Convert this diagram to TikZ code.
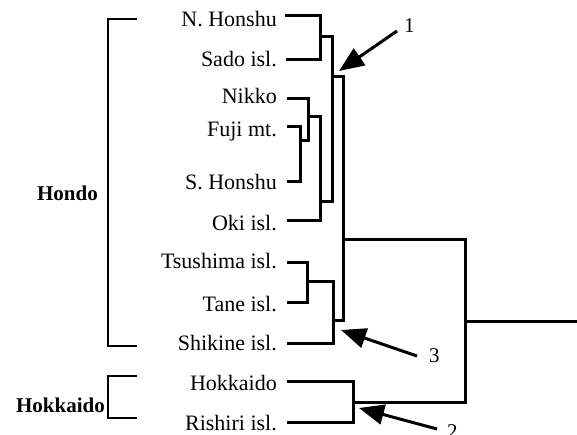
\documentclass[tikz,border=0pt]{standalone}
\usepackage{fontspec}
\setmainfont{Liberation Serif}
\usetikzlibrary{arrows.meta}
\begin{document}
\begin{tikzpicture}[x=1pt,y=-1pt,
  leaf/.style={anchor=base east,inner sep=0pt,font=\fontsize{22}{26}\selectfont},
  grp/.style={anchor=base east,inner sep=0pt,font=\fontsize{21}{25}\selectfont\bfseries},
  num/.style={anchor=base west,inner sep=0pt,font=\fontsize{21}{25}\selectfont},
  tree/.style={line width=3pt,line join=miter,line cap=rect},
  brk/.style={line width=1.3pt,line join=miter},
  arr/.style={line width=3pt,-{Triangle[length=25pt,width=20pt]}}]
\useasboundingbox (0,0) rectangle (577,435);
% leaf labels
\node[leaf] (tNH) at (277,27) {N. Honshu};
\node[leaf] (tSD) at (277,67) {Sado isl.};
\node[leaf] (tNK) at (277,104) {Nikko};
\node[leaf] (tFJ) at (277,137) {Fuji mt.};
\node[leaf] (tSH) at (277,190) {S. Honshu};
\node[leaf] (tOK) at (277,231) {Oki isl.};
\node[leaf] (tTS) at (277,268) {Tsushima isl.};
\node[leaf] (tTN) at (277,311) {Tane isl.};
\node[leaf] (tSK) at (277,350) {Shikine isl.};
\node[leaf] (tHK) at (277,390) {Hokkaido};
\node[leaf] (tRS) at (277,430) {Rishiri isl.};
% group labels
\node[grp] (gHondo) at (98,201) {Hondo};
\node[grp] (gHokk) at (105,412) {Hokkaido};
% leaf line starts
\coordinate (sNH) at (286,16);
\coordinate (sSD) at (287,60);
\coordinate (sNK) at (288,99);
\coordinate (sFJ) at (288,127);
\coordinate (sSH) at (288,182);
\coordinate (sOK) at (288,221);
\coordinate (sTS) at (288,262);
\coordinate (sTN) at (288,302);
\coordinate (sSK) at (288,343);
\coordinate (sHK) at (288,381);
\coordinate (sRS) at (288,422);
% internal nodes (vertical x, outgoing y)
\coordinate (j1) at (320,37);
\coordinate (jFS) at (300,141);
\coordinate (jN) at (308,117);
\coordinate (jO) at (320,202);
\coordinate (j3) at (332,77);
\coordinate (jTT) at (307,281);
\coordinate (jS) at (333,320);
\coordinate (jH) at (343,240);
\coordinate (jK) at (353,402);
\coordinate (root) at (465,321);
\coordinate (rootEnd) at (580,321);
% tree
\draw[tree] (sNH) -| (j1) |- (sSD);
\draw[tree] (sFJ) -| (jFS) |- (sSH);
\draw[tree] (sNK) -| (jN) |- (jFS);
\draw[tree] (jN) -| (jO) |- (sOK);
\draw[tree] (j1) -| (j3) |- (jO);
\draw[tree] (sTS) -| (jTT) |- (sTN);
\draw[tree] (jTT) -| (jS) |- (sSK);
\draw[tree] (j3) -| (jH) |- (jS);
\draw[tree] (sHK) -| (jK) |- (sRS);
\draw[tree] (jH) -| (root) |- (jK);
\draw[tree] (root) -- (rootEnd);
% brackets
\coordinate (bA1) at (137,19);
\coordinate (bA2) at (108,19);
\coordinate (bA3) at (108,346);
\coordinate (bA4) at (137,346);
\draw[brk] (bA1) -- (bA2) -- (bA3) -- (bA4);
\coordinate (bB1) at (137,376);
\coordinate (bB2) at (108,376);
\coordinate (bB3) at (108,418);
\coordinate (bB4) at (137,418);
\draw[brk] (bB1) -- (bB2) -- (bB3) -- (bB4);
% arrows
\coordinate (a1tail) at (397,31);
\coordinate (a1tip) at (339,71);
\coordinate (a3tail) at (417,356);
\coordinate (a3tip) at (341,330);
\coordinate (a2tail) at (437,429);
\coordinate (a2tip) at (359,408);
\draw[arr] (a1tail) -- (a1tip);
\draw[arr] (a3tail) -- (a3tip);
\draw[arr] (a2tail) -- (a2tip);
\node[num] (n1) at (404,33) {1};
\node[num] (n3) at (429,362) {3};
\node[num] (n2) at (447,438) {2};
\end{tikzpicture}
\end{document}
